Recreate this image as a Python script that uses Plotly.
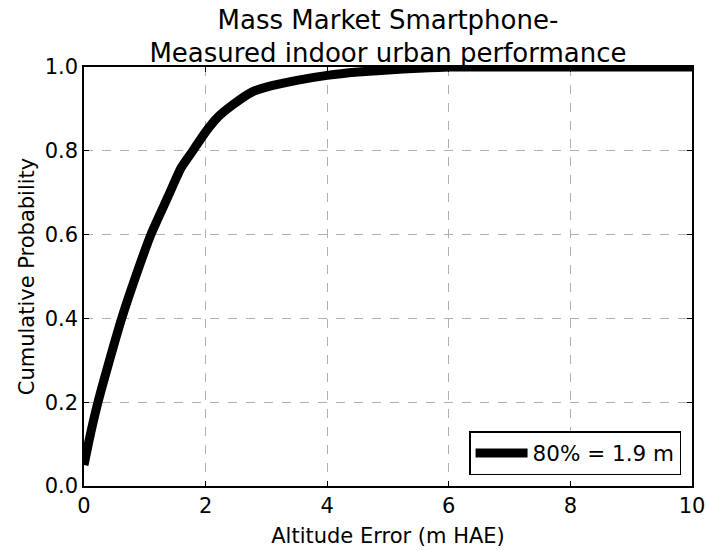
import plotly.graph_objects as go

# Data
altitude_error = [0, 0.1, 0.23, 0.4, 0.62, 0.85, 1.1, 1.38, 1.6, 1.79, 2.0, 2.2, 2.45, 2.76,
                  3.0, 3.5, 4.0, 4.5, 5.0, 5.5, 6.0, 7.0, 8.0, 9.0, 10.0]
cum_prob = [0.05, 0.12, 0.2, 0.29, 0.4, 0.5, 0.6, 0.69, 0.76, 0.8, 0.845, 0.88, 0.91, 0.94,
            0.952, 0.968, 0.98, 0.988, 0.993, 0.997, 1.0, 1.0, 1.0, 1.0, 1.0]
legend_label = "80% = 1.9 m"
x_ticks = [0, 2, 4, 6, 8, 10]
y_ticks = [0.0, 0.2, 0.4, 0.6, 0.8, 1.0]

FONT = "DejaVu Sans"

fig = go.Figure()
fig.add_trace(go.Scatter(
    x=altitude_error, y=cum_prob, mode="lines",
    line=dict(color="black", width=9, shape="spline", smoothing=0.6),
    name=legend_label, cliponaxis=True,
))

axis_common = dict(
    showline=True, linecolor="black", linewidth=1.5, mirror="ticks",
    ticks="inside", ticklen=5, tickcolor="black", tickwidth=1,
    showgrid=True, gridcolor="#b0b0b0", griddash="dash", gridwidth=1,
    zeroline=False, tickfont=dict(family=FONT, size=21, color="black"),
)

fig.update_layout(
    width=707, height=550,
    paper_bgcolor="white", plot_bgcolor="white",
    margin=dict(l=84, r=15, t=67, b=64, autoexpand=False),
    font=dict(family=FONT, color="black"),
    title=dict(
        text="Mass Market Smartphone-<br>Measured indoor urban performance",
        x=0.5, xref="paper", xanchor="center",
        y=1 - 28.5 / 550, yref="container", yanchor="middle",
        font=dict(family=FONT, size=26, color="black"),
    ),
    xaxis=dict(range=[0, 10], tickvals=x_ticks, ticktext=[str(v) for v in x_ticks],
               title=dict(text="Altitude Error (m HAE)", font=dict(family=FONT, size=21), standoff=11),
               **axis_common),
    yaxis=dict(range=[0, 1], tickvals=y_ticks, ticktext=[f"{v:.1f}" for v in y_ticks],
               title=dict(text="Cumulative Probability", font=dict(family=FONT, size=21), standoff=4),
               **axis_common),
    showlegend=True,
    legend=dict(
        x=0.982, y=0.026, xanchor="right", yanchor="bottom",
        bgcolor="white", bordercolor="black", borderwidth=1.5,
        font=dict(family=FONT, size=21.5, color="black"),
        itemwidth=52,
    ),
)

fig.write_html(
    "out.html",
    config={"displayModeBar": False},
    post_script="document.body.style.margin='0';document.body.style.overflow='hidden';",
)
